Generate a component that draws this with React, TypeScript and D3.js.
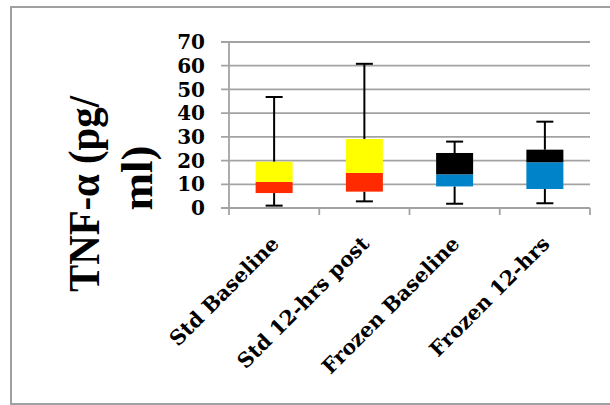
import React from "react";
import * as d3 from "d3";

const categories = ["Std Baseline", "Std 12-hrs post", "Frozen Baseline", "Frozen 12-hrs"];
const minValues = [1.0, 2.8, 1.8, 2.0];
const q1Values = [6.3, 6.9, 9.1, 8.0];
const medianValues = [11.0, 14.8, 14.2, 19.3];
const q3Values = [19.5, 29.1, 23.2, 24.6];
const maxValues = [46.8, 60.8, 28.0, 36.4];
const lowerColors = ["#FF2A00", "#FF2A00", "#0083C9", "#0083C9"];
const upperColors = ["#FFFF00", "#FFFF00", "#000000", "#000000"];
const yTicks = [0, 10, 20, 30, 40, 50, 60, 70];

export default function App() {
  const W = 610, H = 405;
  const left = 229, right = 590, top = 42, bottom = 208;
  const x = d3.scaleBand<string>().domain(categories).range([left, right]).paddingInner(0).paddingOuter(0);
  const y = d3.scaleLinear().domain([0, 70]).range([bottom, top]);
  const bw = x.bandwidth();
  const boxW = bw * 0.41;
  const capW = 17;
  const grid = "#a3a3a3";
  const boundaries = [...categories.map((c) => x(c) as number), right];

  return (
    <svg width={W} height={H} style={{ position: "absolute", left: 0, top: 0, background: "#fff" }}>
      <rect x={11} y={7} width={620} height={397} fill="#fff" stroke="#a0a0a0" strokeWidth={2} />
      {yTicks.map((t) => (
        <line key={"g" + t} x1={left - 8} x2={right} y1={y(t)} y2={y(t)} stroke={grid} strokeWidth={1.8} />
      ))}
      <line x1={left} x2={left} y1={y(70)} y2={bottom} stroke={grid} strokeWidth={1.8} />
      {boundaries.map((b, i) => (
        <line key={"t" + i} x1={b} x2={b} y1={bottom} y2={bottom + 7} stroke={grid} strokeWidth={1.8} />
      ))}
      {yTicks.map((t) => (
        <text key={"l" + t} x={205} y={y(t)} dy="0.36em" textAnchor="end"
          fontFamily="DejaVu Serif" fontWeight="bold" fontSize={20} fill="#000">{t}</text>
      ))}
      {categories.map((c, i) => {
        const cx = (x(c) as number) + bw / 2;
        return (
          <g key={c}>
            <line x1={cx} x2={cx} y1={y(maxValues[i])} y2={y(q3Values[i])} stroke="#000" strokeWidth={2} />
            <line x1={cx} x2={cx} y1={y(q1Values[i])} y2={y(minValues[i])} stroke="#000" strokeWidth={2} />
            <line x1={cx - capW / 2} x2={cx + capW / 2} y1={y(maxValues[i])} y2={y(maxValues[i])} stroke="#000" strokeWidth={2} />
            <line x1={cx - capW / 2} x2={cx + capW / 2} y1={y(minValues[i])} y2={y(minValues[i])} stroke="#000" strokeWidth={2} />
            <rect x={cx - boxW / 2} width={boxW} y={y(medianValues[i])} height={y(q1Values[i]) - y(medianValues[i])} fill={lowerColors[i]} />
            <rect x={cx - boxW / 2} width={boxW} y={y(q3Values[i])} height={y(medianValues[i]) - y(q3Values[i])} fill={upperColors[i]} />
            <text transform={`translate(${cx + 1},${bottom + 32}) rotate(-45)`} textAnchor="end" dy="0.35em"
              fontFamily="DejaVu Serif" fontWeight="bold" fontSize={20.5} fill="#000">{c}</text>
          </g>
        );
      })}
      <text transform="translate(99,194) rotate(-90)" textAnchor="middle" textLength={196} lengthAdjust="spacingAndGlyphs"
        fontFamily="Liberation Serif" fontWeight="bold" fontSize={45} fill="#000">TNF-α (pg/</text>
      <text transform="translate(152,178) rotate(-90)" textAnchor="middle"
        fontFamily="Liberation Serif" fontWeight="bold" fontSize={45} fill="#000">ml)</text>
    </svg>
  );
}
